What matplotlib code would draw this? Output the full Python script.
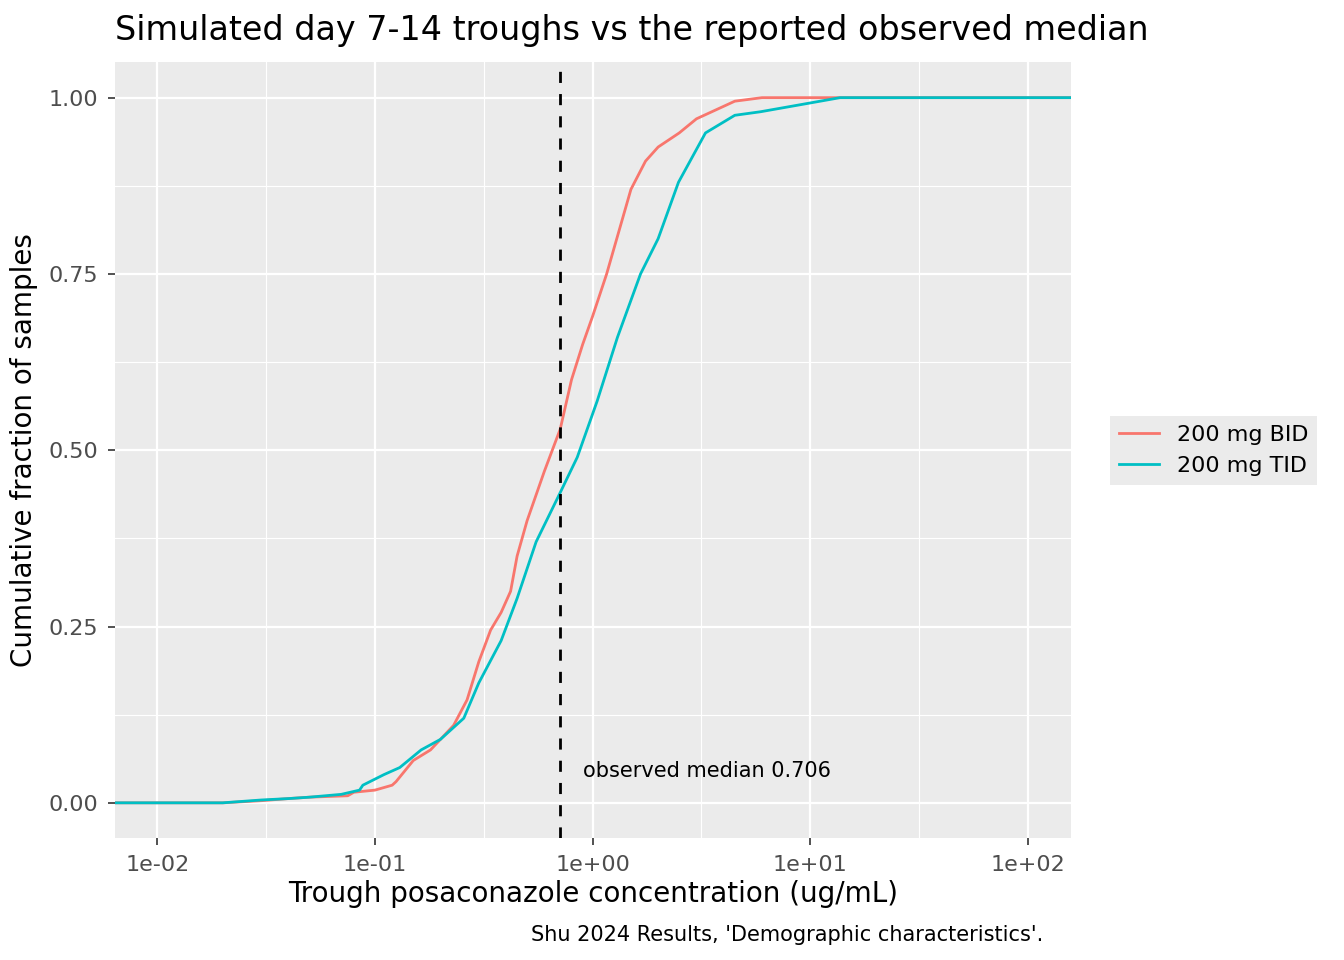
import numpy as np
import matplotlib
matplotlib.use("Agg")
import matplotlib.pyplot as plt

bid_x = [0.0064, 0.02, 0.03, 0.04, 0.05, 0.075, 0.08, 0.1, 0.12, 0.125, 0.15, 0.18, 0.2, 0.23, 0.265, 0.3, 0.34, 0.38, 0.42, 0.45, 0.5, 0.6, 0.71, 0.8, 0.9, 1.0, 1.16, 1.5, 1.75, 2.0, 2.5, 3.0, 4.5, 6.0, 157]
bid_y = [0.0, 0.0, 0.003, 0.006, 0.008, 0.01, 0.015, 0.018, 0.025, 0.03, 0.06, 0.075, 0.09, 0.11, 0.146, 0.2, 0.245, 0.27, 0.3, 0.35, 0.4, 0.47, 0.53, 0.6, 0.65, 0.69, 0.75, 0.87, 0.91, 0.93, 0.95, 0.97, 0.995, 1.0, 1.0]
tid_x = [0.0064, 0.02, 0.03, 0.04, 0.05, 0.07, 0.085, 0.088, 0.11, 0.13, 0.163, 0.2, 0.256, 0.3, 0.38, 0.45, 0.55, 0.71, 0.85, 1.05, 1.3, 1.66, 2.0, 2.48, 3.3, 4.5, 5.9, 9.0, 13.7, 157]
tid_y = [0.0, 0.0, 0.004, 0.006, 0.008, 0.012, 0.018, 0.025, 0.04, 0.05, 0.075, 0.09, 0.12, 0.17, 0.23, 0.29, 0.37, 0.44, 0.49, 0.57, 0.66, 0.75, 0.8, 0.88, 0.95, 0.975, 0.98, 0.99, 1.0, 1.0]
labels = ["200 mg BID", "200 mg TID"]
colors = ["#F8766D", "#00BFC4"]
median = 0.706

fig = plt.figure(figsize=(6.72, 4.8), dpi=200)
ax = fig.add_axes([0.0856, 0.127, 0.711, 0.808])
ax.set_facecolor("#EBEBEB")
for xs, ys, lab, c in [(bid_x, bid_y, labels[0], colors[0]), (tid_x, tid_y, labels[1], colors[1])]:
    ax.plot(xs, ys, color=c, lw=1.0, label=lab, zorder=3)
ax.axvline(median, color="black", ls=(0, (4, 4)), lw=1.0, zorder=4)
ax.text(0.9, 0.045, "observed median 0.706", fontsize=7.5, va="center", ha="left")
ax.set_xscale("log")
ax.set_xlim(0.0064, 157)
ax.set_ylim(-0.05, 1.05)
ax.set_xticks([1e-2, 1e-1, 1, 10, 100])
ax.set_xticklabels(["1e-02", "1e-01", "1e+00", "1e+01", "1e+02"])
ax.set_xticks([10**-1.5, 10**-0.5, 10**0.5, 10**1.5], minor=True)
ax.set_yticks([0, 0.25, 0.5, 0.75, 1.0])
ax.set_yticklabels(["0.00", "0.25", "0.50", "0.75", "1.00"])
ax.set_yticks([0.125, 0.375, 0.625, 0.875], minor=True)
ax.xaxis.set_minor_formatter(matplotlib.ticker.NullFormatter())
ax.grid(which="major", color="white", lw=0.8)
ax.grid(which="minor", color="white", lw=0.4)
ax.set_axisbelow(True)
ax.tick_params(which="major", length=2.5, color="#333333", labelsize=8, labelcolor="#4D4D4D", width=0.6)
ax.tick_params(which="minor", length=0)
for s in ax.spines.values():
    s.set_visible(False)
ax.set_xlabel("Trough posaconazole concentration (ug/mL)", fontsize=10, labelpad=2)
ax.set_ylabel("Cumulative fraction of samples", fontsize=10)
ax.set_title("Simulated day 7-14 troughs vs the reported observed median", fontsize=12, loc="left", x=0.0, pad=8)
leg = ax.legend(loc="center left", bbox_to_anchor=(1.03, 0.5), frameon=True, fontsize=8, handlelength=1.8,
                facecolor="#EBEBEB", edgecolor="none", fancybox=False, borderpad=0.4)
leg.get_frame().set_alpha(1)
fig.text(0.776, 0.02, "Shu 2024 Results, 'Demographic characteristics'.", ha="right", fontsize=7.5)
fig.savefig("out.png", dpi=200)
